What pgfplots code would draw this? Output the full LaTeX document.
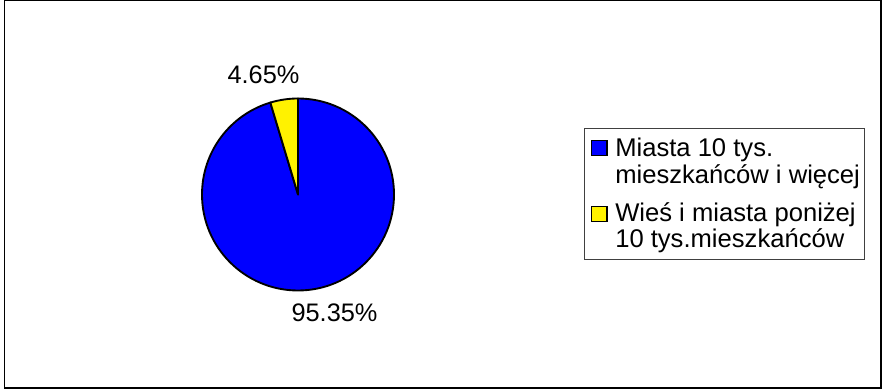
\documentclass[border=0pt]{standalone}
\usepackage{pgfplots}
\usepackage{pgfplotstable}
\pgfplotsset{compat=1.18}
\usepackage{fontspec}
\setmainfont{Liberation Sans}
\pgfplotstableread{
idx value
0 95.35
1 4.65
}\piedata
\begin{document}
\begin{tikzpicture}
\pgfplotstablegetelem{0}{value}\of\piedata\let\valA\pgfplotsretval
\pgfplotstablegetelem{1}{value}\of\piedata\let\valB\pgfplotsretval
\begin{axis}[x=0.75pt,y=0.75pt,xmin=0,xmax=882,ymin=0,ymax=389,
  hide axis,scale only axis,clip=false]
\addplot[draw=none] coordinates {(0,0) (882,389)};
\coordinate (BL) at (axis cs:0,0);
\coordinate (TR) at (axis cs:882,389);
% outer frame
\draw[black,line width=1.2pt] (axis cs:4.6,0.8) rectangle (axis cs:880.8,388.3);
% pie
\pgfmathsetmacro{\endA}{90-\valA*3.6}
\pgfmathsetmacro{\endB}{90+\valB*3.6}
\filldraw[fill=blue,draw=black,line width=1.4pt,line join=round]
  (axis cs:298,194.5) -- ++(90:72pt) arc[start angle=90,end angle=\endA,radius=72pt] -- cycle;
\filldraw[fill=yellow,draw=black,line width=1.4pt,line join=round]
  (axis cs:298,194.5) -- ++(90:72pt) arc[start angle=90,end angle=\endB,radius=72pt] -- cycle;
% labels
\node[anchor=base,font=\fontsize{19}{22}\selectfont,inner sep=0pt] at (axis cs:263.5,305.7) {\valB\%};
\node[anchor=base,font=\fontsize{19}{22}\selectfont,inner sep=0pt] at (axis cs:334.5,67.3) {\valA\%};
% legend
\draw[black!75,line width=0.8pt] (axis cs:584.5,129.5) rectangle (axis cs:864.5,260.7);
\filldraw[fill=blue,draw=black,line width=0.9pt] (axis cs:591.5,233.5) rectangle (axis cs:607,248.5);
\filldraw[fill=yellow,draw=black,line width=0.9pt] (axis cs:591.5,167.5) rectangle (axis cs:607,182.5);
\begin{scope}[every node/.style={anchor=base west,inner sep=0pt,font=\fontsize{19.2}{22}\selectfont}]
\node at (axis cs:615,232.5) {Miasta 10 tys.};
\node at (axis cs:615,205) {mieszkańców i więcej};
\node at (axis cs:615,167.5) {Wieś i miasta poniżej};
\node at (axis cs:615,141) {10 tys.mieszkańców};
\end{scope}
\end{axis}
\pgfresetboundingbox
\path[use as bounding box] (BL) rectangle (TR);
\end{tikzpicture}
\end{document}
